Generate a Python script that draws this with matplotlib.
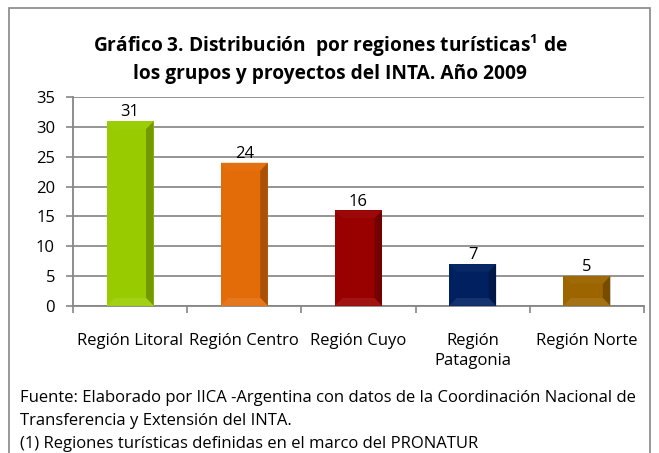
import matplotlib
matplotlib.use("Agg")
import matplotlib.pyplot as plt
from matplotlib.patches import Polygon, Rectangle
import matplotlib.colors as mcolors

categories = ["Región Litoral", "Región Centro", "Región Cuyo", "Región\nPatagonia", "Región Norte"]
values = [31, 24, 16, 7, 5]
colors = ["#99CC00", "#E36C09", "#990000", "#002060", "#9C6500"]
yticks = [0, 5, 10, 15, 20, 25, 30, 35]
title = "Gráfico 3. Distribución  por regiones turísticas$^{\\mathbf{1}}$ de\nlos grupos y proyectos del INTA. Año 2009"
footnote = ("Fuente: Elaborado por IICA -Argentina con datos de la Coordinación Nacional de\n"
            "Transferencia y Extensión del INTA.\n"
            "(1) Regiones turísticas definidas en el marco del PRONATUR")

plt.rcParams['font.family'] = ['Open Sans', 'DejaVu Sans']
plt.rcParams['mathtext.fontset'] = 'custom'
plt.rcParams['mathtext.bf'] = 'Open Sans:bold'
plt.rcParams['mathtext.rm'] = 'Open Sans'

fig = plt.figure(figsize=(6.59, 4.53), dpi=100)
ax = fig.add_axes([73/659, 1-305.7/453, (644-73)/659, (305.7-97.3)/453])

x = list(range(len(categories)))
bars = ax.bar(x, values, width=0.41, color=colors, zorder=3)

def darker(c, f):
    r, g, b = mcolors.to_rgb(c)
    return (r*f, g*f, b*f)

def lighter(c, f):
    r, g, b = mcolors.to_rgb(c)
    return (r + (1-r)*f, g + (1-g)*f, b + (1-b)*f)

for b, c in zip(bars, colors):
    x0 = b.get_x(); w = b.get_width(); h = b.get_height()
    dx = w*0.16
    dy = min(1.3, h/2)
    ax.add_patch(Polygon([(x0+w, 0), (x0+w, h), (x0+w-dx, h-dy), (x0+w-dx, dy)],
                         closed=True, facecolor=darker(c, 0.75), edgecolor='none', zorder=4))
    ax.add_patch(Polygon([(x0, h), (x0+w, h), (x0+w-dx, h-dy), (x0+dx, h-dy)],
                         closed=True, facecolor=lighter(c, 0.03), edgecolor='none', zorder=4))
    ax.add_patch(Polygon([(x0, 0), (x0+w, 0), (x0+w-dx, dy), (x0+dx, dy)],
                         closed=True, facecolor=lighter(c, 0.08), edgecolor='none', zorder=4))
    ax.text(x0+w/2, h+0.15, str(int(h)), ha='center', va='bottom', fontsize=12, color='black', zorder=5)

ax.set_xlim(-0.5, len(categories)-0.5)
ax.set_ylim(0, 35)
ax.set_yticks(yticks)
ax.set_xticks(x)
ax.set_xticklabels(categories, fontsize=12, linespacing=1.3)
ax.set_xticks([i-0.5 for i in range(len(categories)+1)], minor=True)
ax.tick_params(axis='x', which='major', length=0, pad=20)
ax.tick_params(axis='x', which='minor', length=5, color='#868686', width=1.2, direction='out')
ax.tick_params(axis='y', length=5, color='#868686', width=1.2, labelsize=12, pad=8)
ax.grid(axis='y', color='#8C8C8C', linewidth=1.3, zorder=0)
ax.set_axisbelow(True)
for s in ['top', 'right']:
    ax.spines[s].set_visible(False)
for s in ['left', 'bottom']:
    ax.spines[s].set_color('#868686')
    ax.spines[s].set_linewidth(1.3)

fig.text(330/659, 1-58/453, title, ha='center', va='center', fontsize=13.8, fontweight='bold', linespacing=1.35)
fig.text(20/659, 1-421/453, footnote, ha='left', va='center', fontsize=12, linespacing=1.55)

fig.add_artist(Rectangle((9/659, -0.1), (650-9)/659, 1.1 - 8/453, transform=fig.transFigure,
                         fill=False, edgecolor='#868686', linewidth=1.2))

fig.savefig("out.png", dpi=100)
